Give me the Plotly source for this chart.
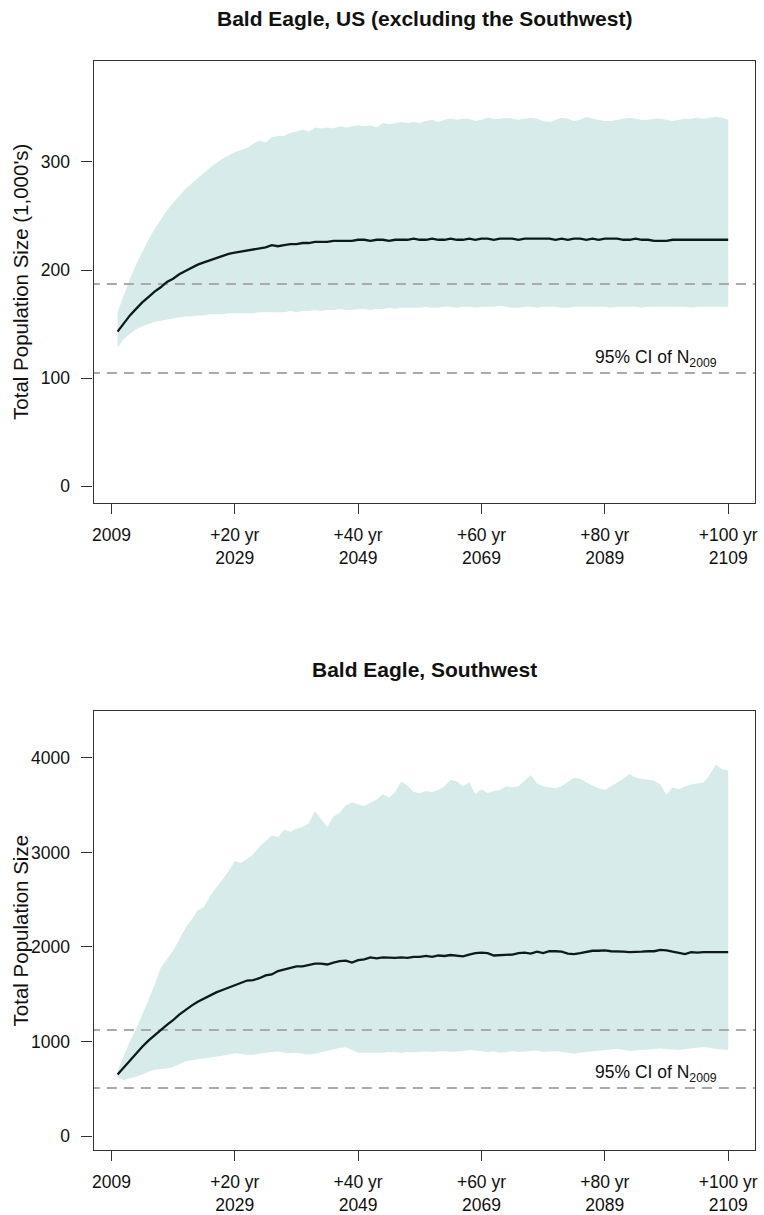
import plotly.graph_objects as go

years = list(range(2010, 2110))

# ---- Panel 1: US (excluding the Southwest), in 1,000's ----
us_mean = [143, 151, 158, 164, 170, 175, 180, 184, 189, 192,
           196, 199, 202, 205, 207, 209, 211, 213, 215, 216,
           217, 218, 219, 220, 221, 223, 222, 223, 224, 224,
           225, 225, 226, 226, 226, 227, 227, 227, 227, 228,
           228, 227, 228, 228, 227, 228, 228, 228, 229, 228,
           228, 229, 228, 228, 229, 228, 228, 229, 228, 229,
           229, 228, 229, 229, 229, 228, 229, 229, 229, 229,
           229, 228, 229, 228, 229, 229, 228, 229, 228, 229,
           229, 229, 228, 228, 229, 228, 228, 227, 227, 227,
           228, 228, 228, 228, 228, 228, 228, 228, 228, 228]
us_upper = [161, 176, 192, 205, 217, 228, 238, 247, 255, 262,
            269, 275, 280, 285, 290, 295, 299, 303, 306, 309,
            311, 313, 317, 320, 318, 323, 324, 324, 327, 328,
            330, 328, 332, 331, 332, 331, 333, 332, 333, 334,
            333, 334, 332, 336, 335, 336, 337, 336, 337, 336,
            338, 339, 337, 339, 340, 339, 340, 340, 338, 339,
            341, 340, 340, 341, 340, 339, 340, 341, 340, 338,
            337, 339, 341, 340, 338, 339, 342, 340, 339, 338,
            338, 339, 340, 341, 340, 339, 339, 340, 340, 339,
            338, 339, 340, 340, 341, 340, 341, 342, 341, 339]
us_lower = [128, 136, 141, 145, 148, 150, 152, 153, 154, 155,
            156, 157, 157, 158, 158, 159, 159, 159, 160, 160,
            160, 160, 160, 161, 161, 161, 161, 161, 162, 161,
            162, 162, 163, 162, 163, 163, 164, 163, 163, 164,
            164, 163, 164, 164, 165, 164, 165, 165, 165, 165,
            166, 165, 165, 166, 166, 165, 166, 166, 165, 166,
            166, 166, 167, 166, 165, 165, 166, 166, 165, 166,
            166, 166, 165, 165, 166, 166, 166, 166, 166, 166,
            165, 166, 166, 166, 166, 165, 166, 166, 166, 166,
            166, 166, 166, 165, 166, 166, 166, 166, 166, 166]
us_ci = [104.6, 187.0]

# ---- Panel 2: Southwest ----
sw_mean = [650, 725, 800, 875, 945, 1010, 1070, 1120, 1175, 1225,
           1285, 1335, 1380, 1420, 1455, 1490, 1520, 1545, 1570, 1595,
           1625, 1645, 1650, 1670, 1700, 1710, 1745, 1760, 1780, 1795,
           1795, 1810, 1825, 1825, 1815, 1835, 1850, 1855, 1835, 1860,
           1870, 1890, 1880, 1890, 1885, 1885, 1890, 1885, 1895, 1895,
           1905, 1895, 1910, 1905, 1915, 1910, 1900, 1920, 1935, 1940,
           1935, 1910, 1915, 1920, 1920, 1935, 1940, 1930, 1950, 1935,
           1955, 1955, 1950, 1930, 1925, 1935, 1950, 1960, 1960, 1965,
           1955, 1955, 1950, 1945, 1945, 1950, 1955, 1955, 1970, 1965,
           1950, 1935, 1925, 1945, 1940, 1945, 1945, 1945, 1945, 1945]
sw_upper = [690, 850, 1000, 1130, 1280, 1440, 1600, 1780, 1870, 1960,
            2080, 2200, 2290, 2390, 2420, 2540, 2630, 2720, 2800, 2910,
            2890, 2930, 2980, 3060, 3120, 3180, 3160, 3240, 3220, 3250,
            3270, 3310, 3440, 3350, 3270, 3380, 3420, 3500, 3530, 3510,
            3490, 3530, 3560, 3620, 3580, 3640, 3750, 3710, 3640, 3630,
            3650, 3640, 3660, 3700, 3770, 3750, 3700, 3740, 3620, 3670,
            3630, 3650, 3660, 3700, 3690, 3700, 3760, 3820, 3730, 3700,
            3690, 3680, 3700, 3750, 3790, 3780, 3740, 3710, 3680, 3660,
            3700, 3740, 3780, 3830, 3790, 3780, 3770, 3760, 3720, 3610,
            3690, 3670, 3700, 3720, 3730, 3740, 3820, 3930, 3880, 3870]
sw_lower = [620, 590, 610, 630, 650, 680, 700, 710, 715, 730,
            760, 790, 800, 810, 820, 830, 840, 850, 860, 875,
            870, 860, 860, 870, 880, 890, 895, 880, 875, 880,
            870, 860, 870, 880, 900, 915, 930, 940, 910, 880,
            880, 875, 880, 880, 890, 885, 880, 890, 885, 890,
            895, 890, 895, 900, 890, 895, 900, 910, 905, 895,
            890, 895, 880, 885, 900, 890, 895, 900, 905, 890,
            895, 900, 890, 880, 870, 880, 890, 900, 905, 910,
            915, 920, 910, 900, 905, 910, 915, 920, 925, 920,
            915, 910, 920, 930, 935, 940, 935, 920, 915, 910]
sw_ci = [508, 1122]

tick_years = [2009, 2029, 2049, 2069, 2089, 2109]
tick_text = ["2009", "+20 yr<br>2029", "+40 yr<br>2049", "+60 yr<br>2069",
             "+80 yr<br>2089", "+100 yr<br>2109"]

W, H = 764, 1215
FONT = "Liberation Sans, Arial, Helvetica, sans-serif"
BAND = "#d7ebea"
LINE = "#0c1a1a"
DASH = "#aaaaaa"
TICKFS = 17.5

fig = go.Figure()

panels = [
    (us_mean, us_lower, us_upper, us_ci, "x", "y"),
    (sw_mean, sw_lower, sw_upper, sw_ci, "x2", "y2"),
]
for mean, lo, up, ci, xa, ya in panels:
    fig.add_trace(go.Scatter(
        x=years + years[::-1], y=up + lo[::-1], fill="toself",
        fillcolor=BAND, line=dict(width=0), mode="lines",
        hoverinfo="skip", showlegend=False, xaxis=xa, yaxis=ya))
    for v in ci:
        fig.add_trace(go.Scatter(
            x=[2000, 2120], y=[v, v], mode="lines",
            line=dict(color=DASH, width=2, dash="10px,7px"),
            showlegend=False, hoverinfo="skip", xaxis=xa, yaxis=ya))
    fig.add_trace(go.Scatter(
        x=years, y=mean, mode="lines",
        line=dict(color=LINE, width=2.3),
        showlegend=False, xaxis=xa, yaxis=ya))

xdom = [93 / W, 758 / W]
top_dom = [(H - 503) / H, (H - 61) / H]
bot_dom = [(H - 1150) / H, (H - 711) / H]

xcommon = dict(
    range=[2006.1, 2113.35], tickmode="array", tickvals=tick_years,
    ticktext=tick_text, ticks="outside", ticklen=10, tickwidth=1,
    tickcolor="#333", showline=True, linecolor="#333", linewidth=1.2,
    mirror=True, showgrid=False, zeroline=False,
    tickfont=dict(family=FONT, size=TICKFS, color="#111"),
    ticklabelstandoff=6, domain=xdom,
)
ycommon = dict(
    ticks="outside", ticklen=11, tickwidth=1, tickcolor="#333",
    showline=True, linecolor="#333", linewidth=1.2, mirror=True,
    showgrid=False, zeroline=False,
    tickfont=dict(family=FONT, size=TICKFS, color="#111"),
    ticklabelstandoff=8,
)

fig.update_layout(
    width=W, height=H, autosize=False,
    margin=dict(l=0, r=0, t=0, b=0),
    paper_bgcolor="white", plot_bgcolor="white",
    font=dict(family=FONT, color="#111"),
    xaxis=dict(**xcommon, anchor="y"),
    xaxis2=dict(**xcommon, anchor="y2"),
    yaxis=dict(**ycommon, range=[-15.7, 393.5], tickvals=[0, 100, 200, 300],
               domain=top_dom, anchor="x"),
    yaxis2=dict(**ycommon, range=[-148, 4497], tickvals=[0, 1000, 2000, 3000, 4000],
                domain=bot_dom, anchor="x2"),
)

annos = [
    dict(text="<b>Bald Eagle, US (excluding the Southwest)</b>", xref="paper", yref="paper",
         x=(xdom[0] + xdom[1]) / 2, y=1 - 19 / H, xanchor="center", yanchor="middle",
         showarrow=False, font=dict(family=FONT, size=21, color="#111")),
    dict(text="<b>Bald Eagle, Southwest</b>", xref="paper", yref="paper",
         x=(xdom[0] + xdom[1]) / 2, y=1 - 669 / H, xanchor="center", yanchor="middle",
         showarrow=False, font=dict(family=FONT, size=21, color="#111")),
    dict(text="Total Population Size (1,000's)", xref="paper", yref="paper",
         x=20 / W, y=sum(top_dom) / 2, textangle=-90, xanchor="center", yanchor="middle",
         showarrow=False, font=dict(family=FONT, size=20.5, color="#111")),
    dict(text="Total Population Size", xref="paper", yref="paper",
         x=20 / W, y=sum(bot_dom) / 2, textangle=-90, xanchor="center", yanchor="middle",
         showarrow=False, font=dict(family=FONT, size=20.5, color="#111")),
    dict(text="95% CI of N<sub>2009</sub>", xref="x", yref="y",
         x=2107.5, y=us_ci[0], xanchor="right", yanchor="bottom", yshift=1,
         showarrow=False, font=dict(family=FONT, size=17.5, color="#111")),
    dict(text="95% CI of N<sub>2009</sub>", xref="x2", yref="y2",
         x=2107.5, y=sw_ci[0], xanchor="right", yanchor="bottom", yshift=1,
         showarrow=False, font=dict(family=FONT, size=17.5, color="#111")),
]
fig.update_layout(annotations=annos)

fig.write_html("out.html",
               config={"displayModeBar": False},
               post_script="document.body.style.margin='0';document.body.style.overflow='hidden';")
